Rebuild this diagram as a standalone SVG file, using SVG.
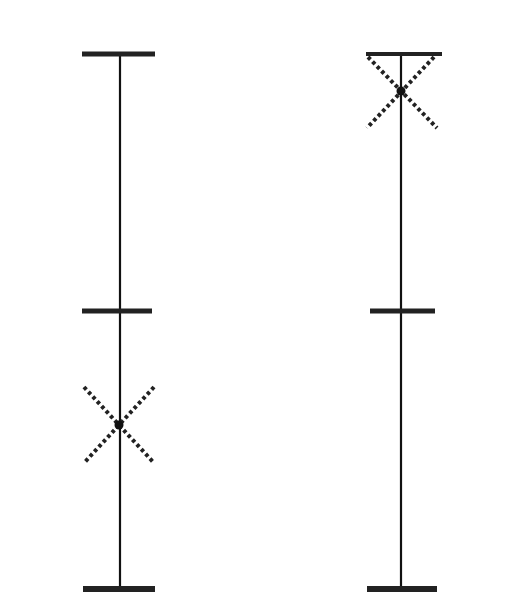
<svg xmlns="http://www.w3.org/2000/svg" width="513" height="599" viewBox="0 0 513 599">
<style>
.axis{stroke:#111;stroke-width:2.2;fill:none}
.tick{stroke:#222;stroke-width:5;stroke-linecap:butt}
.cross{stroke:#222;stroke-width:4;stroke-dasharray:3.5 3;fill:none}
.dot{fill:#111}
</style>
<rect width="513" height="599" fill="#fff"/>
<g id="connectors">
<line class="axis" x1="120" y1="54" x2="120" y2="589"/>
<line class="axis" x1="401" y1="54" x2="401" y2="589"/>
</g>
<g id="left-top"><line class="tick" x1="82" y1="54" x2="155" y2="54"/></g>
<g id="left-mid"><line class="tick" x1="82" y1="311" x2="152" y2="311"/></g>
<g id="left-bottom"><line class="tick" x1="83" y1="589" x2="155" y2="589" style="stroke-width:6"/></g>
<g id="left-cross">
<line class="cross" x1="84" y1="387" x2="154" y2="463"/>
<line class="cross" x1="154" y1="387" x2="84" y2="463"/>
<circle class="dot" cx="119" cy="425" r="4.5"/>
</g>
<g id="right-top"><line class="tick" x1="366" y1="54" x2="442" y2="54" style="stroke-width:4"/></g>
<g id="right-mid"><line class="tick" x1="370" y1="311" x2="435" y2="311"/></g>
<g id="right-bottom"><line class="tick" x1="367" y1="589" x2="437" y2="589" style="stroke-width:6"/></g>
<g id="right-cross">
<line class="cross" x1="368" y1="57" x2="437" y2="128"/>
<line class="cross" x1="434" y1="57" x2="367" y2="128"/>
<circle class="dot" cx="401" cy="91" r="4.5"/>
</g>
</svg>
